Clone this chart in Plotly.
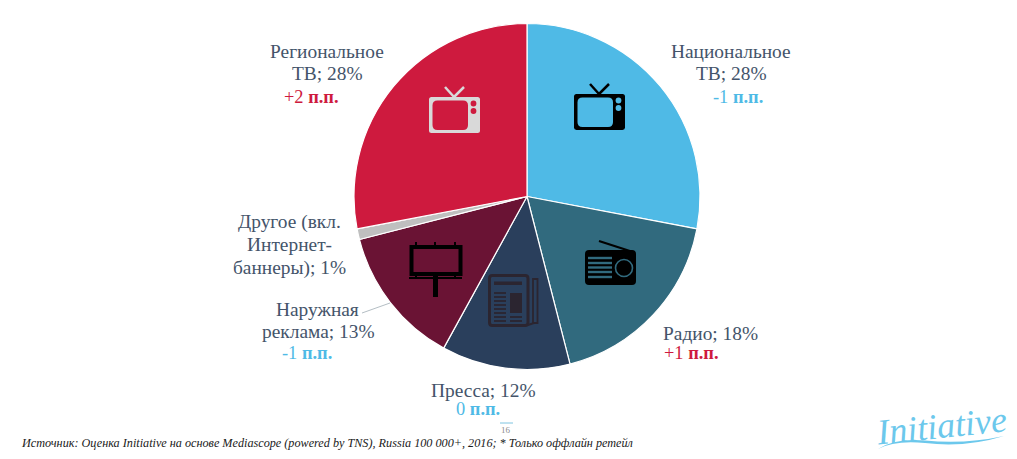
import plotly.graph_objects as go

W, H = 1017, 459
categories = ["Национальное ТВ", "Радио", "Пресса", "Наружная реклама", "Другое (вкл. Интернет-баннеры)", "Региональное ТВ"]
values = [28, 18, 12, 13, 1, 28]
colors = ["#4FBAE6", "#316A7E", "#2A3F5C", "#6A1334", "#BFBFBF", "#CE1A3E"]
TXT = "#44546A"; BLUE = "#4FBAE6"; RED = "#CE1A3E"
SERIF = "Liberation Serif"

cx, cy, r = 527, 196.5, 173

def X(v): return v / W
def Y(v): return 1 - v / H

fig = go.Figure(go.Pie(
    labels=categories, values=values, sort=False, direction="clockwise", rotation=0,
    marker=dict(colors=colors, line=dict(color="white", width=1.2)),
    textinfo="none", hoverinfo="label+percent", showlegend=False,
    domain=dict(x=[X(cx - r), X(cx + r)], y=[Y(cy + r), Y(cy - r)]),
))

shapes, annos = [], []

def rect(x0, y0, x1, y1, fill):
    shapes.append(dict(type="rect", xref="paper", yref="paper", x0=X(x0), x1=X(x1), y0=Y(y0), y1=Y(y1),
                       fillcolor=fill, line=dict(width=0)))

def outline(x0, y0, x1, y1, color, w):
    shapes.append(dict(type="rect", xref="paper", yref="paper", x0=X(x0), x1=X(x1), y0=Y(y0), y1=Y(y1),
                       fillcolor="rgba(0,0,0,0)", line=dict(width=w, color=color)))

def line(x0, y0, x1, y1, color, w):
    shapes.append(dict(type="line", xref="paper", yref="paper", x0=X(x0), x1=X(x1), y0=Y(y0), y1=Y(y1),
                       line=dict(width=w, color=color)))

def circle(x, y, rad, fill, lc=None, w=0):
    shapes.append(dict(type="circle", xref="paper", yref="paper", x0=X(x - rad), x1=X(x + rad), y0=Y(y + rad), y1=Y(y - rad),
                       fillcolor=fill, line=dict(width=w, color=lc or fill)))

def rrect_path(x0, y0, x1, y1, c):
    q = lambda a, b: f"{X(a):.5f},{Y(b):.5f}"
    return (f"M{q(x0 + c, y0)} L{q(x1 - c, y0)} Q{q(x1, y0)} {q(x1, y0 + c)} L{q(x1, y1 - c)} Q{q(x1, y1)} {q(x1 - c, y1)} "
            f"L{q(x0 + c, y1)} Q{q(x0, y1)} {q(x0, y1 - c)} L{q(x0, y0 + c)} Q{q(x0, y0)} {q(x0 + c, y0)} Z")

def rrect(x0, y0, x1, y1, c, fill):
    shapes.append(dict(type="path", xref="paper", yref="paper", path=rrect_path(x0, y0, x1, y1, c),
                       fillcolor=fill, line=dict(width=0)))

def tv(ox, oy, fg, bg):
    line(ox + 16, oy - 10, ox + 25, oy, fg, 2.5)
    line(ox + 35, oy - 10, ox + 25, oy, fg, 2.5)
    rrect(ox, oy, ox + 51, oy + 36, 2.5, fg)
    rrect(ox + 3.5, oy + 3.5, ox + 39, oy + 33, 5, bg)
    circle(ox + 44.5, oy + 6.5, 2.9, bg)
    circle(ox + 44.5, oy + 14, 2.9, bg)

tv(574, 94, "#000000", colors[0])
tv(429, 97, "#D9D9D9", colors[5])

# radio
line(599, 241, 633, 252, "#000000", 2.2)
rrect(585, 250, 636, 285, 4, "#000000")
for gy in (258, 263, 267.5, 272, 277):
    rect(588, gy - 1.2, 612, gy + 1.2, colors[1])
circle(624, 268, 8.5, "#000000", colors[1], 1.6)

# billboard
outline(411.5, 247, 460.5, 274, "#000000", 4)
for px in (416, 435, 455):
    rect(px - 1, 242, px + 1, 246, "#000000")
    rect(px - 1, 274, px + 1, 278, "#000000")
rect(409, 277, 462, 279, "#000000")
rect(433, 275, 438, 297, "#000000")

# newspaper
NP = "#2B2530"
shapes.append(dict(type="path", xref="paper", yref="paper", path=rrect_path(489.5, 275.5, 528, 325.5, 3),
                   fillcolor="rgba(0,0,0,0)", line=dict(width=3, color=NP)))
outline(533, 279, 537.5, 323, NP, 1.8)
line(528, 325, 534, 323, NP, 2)
rect(494, 281.5, 522, 285, NP)
for ly in (293, 297, 301, 305, 309, 313, 317, 321):
    rect(494, ly - 0.9, 506, ly + 0.9, NP)
rect(510, 293, 522, 313, NP)
for ly in (317, 321):
    rect(510, ly - 0.9, 522, ly + 0.9, NP)

# leader line of the outdoor label
line(362, 313, 390, 303, "#B4BEC4", 1)

# swoosh of the logo
shapes.append(dict(type="path", xref="paper", yref="paper",
    path=f"M{X(878):.5f},{Y(449):.5f} Q{X(895):.5f},{Y(440):.5f} {X(925):.5f},{Y(443):.5f} Q{X(965):.5f},{Y(448):.5f} {X(1004):.5f},{Y(436):.5f} "
         f"Q{X(965):.5f},{Y(444.5):.5f} {X(925):.5f},{Y(440.5):.5f} Q{X(895):.5f},{Y(438):.5f} {X(878):.5f},{Y(449):.5f} Z",
    fillcolor="#6CC8EC", line=dict(width=0)))
# page marker line
line(500, 423, 513, 423, "#7FC4E0", 1)

def text(x, y, s, size=19.4, color=TXT, align="center", anchor="center", **kw):
    annos.append(dict(text=s, xref="paper", yref="paper", x=X(x), y=Y(y), xanchor=anchor, yanchor="middle",
                      showarrow=False, align=align, font=dict(family=SERIF, size=size, color=color), **kw))

def delta(x, y, num, color):
    text(x, y, f"{num} <b>п.п.</b>", 18.4, color)

text(327, 51, "Региональное"); text(327, 74, "ТВ; 28%"); delta(311, 97, "+2", RED)
text(731, 51, "Национальное"); text(731, 74, "ТВ; 28%"); delta(738, 97, "-1", BLUE)
text(710, 333, "Радио; 18%"); delta(691, 353, "+1", RED)
text(483, 390, "Пресса; 12%"); delta(478, 409, "0", BLUE)
text(317, 309, "Наружная"); text(318, 331, "реклама; 13%"); delta(307, 353, "-1", BLUE)
text(289, 222, "Другое (вкл."); text(289, 245, "Интернет-"); text(289, 268, "баннеры); 1%")
text(506, 430, "16", 9, "#8C8C8C")
text(19, 443, "<i>Источник: Оценка Initiative на основе Mediascope (powered by TNS), Russia 100 000+, 2016; * Только оффлайн ретейл</i>",
     12.2, "#1A1A1A", "left", "left")
text(941, 426, "<i>Initiative</i>", 36, "#6CC8EC", textangle=-6)

fig.update_layout(width=None, height=None, autosize=True, margin=dict(l=0, r=0, t=0, b=0),
                  paper_bgcolor="white", plot_bgcolor="white", shapes=shapes, annotations=annos,
                  font=dict(family=SERIF))
fig.write_html("out.html", config=dict(displayModeBar=False),
               default_width=f"{W}px", default_height=f"{H}px",
               post_script="document.body.style.margin='0';document.body.style.overflow='hidden';")
